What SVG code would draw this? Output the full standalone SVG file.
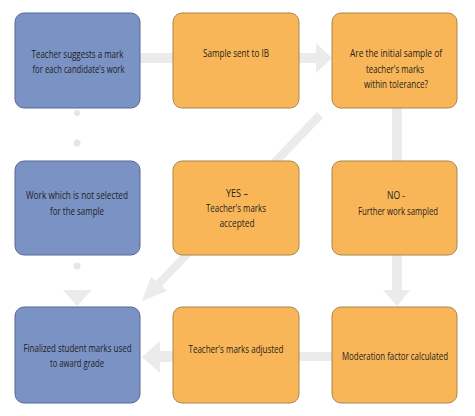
<svg xmlns="http://www.w3.org/2000/svg" width="475" height="416" viewBox="0 0 475 416">
<defs>
<style>
.blue{fill:#7b93c4;stroke:#56698f;stroke-width:1}
.orange{fill:#f9b658;stroke:#a8864f;stroke-width:1}
.t{font-family:"Open Sans","Liberation Sans",sans-serif;font-size:11px;fill:#1e1e1e;text-anchor:middle}
.s{font-size:10px}
.band{fill:#ebebeb}
.dot{fill:#e6e6e6}
</style>
</defs>
<rect width="475" height="416" fill="#ffffff"/>
<g id="connectors">
<rect class="band" x="140" y="53" width="33" height="10"/>
<path class="band" d="M299 53 H316 V43 L332 58 L316 73 V63 H299 Z"/>
<path class="band" d="M392 108 H402 V290 H410 L397 306 L383 290 H392 Z"/>
<path class="band" d="M332 352 V361 H299 V352 Z"/>
<path class="band" d="M173 351 V362 H160 V373 L142 357 L160 341 V351 Z"/>
<path class="band" d="M317 112 L323 118 L162 286 L167 291 L142 301 L151 277 L156 281 Z"/>
<circle class="dot" cx="77" cy="113" r="3"/>
<circle class="dot" cx="77" cy="143" r="3.5"/>
<circle class="dot" cx="77" cy="266" r="3.5"/>
<path class="band" d="M63 290 H92 L77 306 Z"/>
</g>
<g id="n1"><rect class="blue" x="15" y="13" width="125" height="95" rx="9"/>
<text class="t" x="77.5" y="58" textLength="92" lengthAdjust="spacingAndGlyphs">Teacher suggests a mark</text>
<text class="t" x="78.5" y="73" textLength="92" lengthAdjust="spacingAndGlyphs">for each candidate's work</text></g>
<g id="n2"><rect class="orange" x="173" y="13" width="126" height="95" rx="9"/>
<text class="t" x="236" y="57" textLength="66" lengthAdjust="spacingAndGlyphs">Sample sent to IB</text></g>
<g id="n3"><rect class="orange" x="332" y="13" width="125" height="95" rx="9"/>
<text class="t" x="396" y="57" textLength="92" lengthAdjust="spacingAndGlyphs">Are the initial sample of</text>
<text class="t" x="395" y="73" textLength="58" lengthAdjust="spacingAndGlyphs">teacher's marks</text>
<text class="t" x="396" y="88" textLength="64" lengthAdjust="spacingAndGlyphs">within tolerance?</text></g>
<g id="n4"><rect class="blue" x="15" y="161" width="125" height="94" rx="9"/>
<text class="t" x="77" y="199" textLength="102" lengthAdjust="spacingAndGlyphs">Work which is not selected</text>
<text class="t" x="77" y="215" textLength="54" lengthAdjust="spacingAndGlyphs">for the sample</text></g>
<g id="n5"><rect class="orange" x="173" y="161" width="126" height="94" rx="9"/>
<text class="t" x="237" y="197" textLength="22" lengthAdjust="spacingAndGlyphs">YES –</text>
<text class="t" x="236" y="212" textLength="60" lengthAdjust="spacingAndGlyphs">Teacher's marks</text>
<text class="t" x="237" y="227" textLength="35" lengthAdjust="spacingAndGlyphs">accepted</text></g>
<g id="n6"><rect class="orange" x="332" y="161" width="125" height="94" rx="9"/>
<text class="t" x="396" y="199" textLength="18" lengthAdjust="spacingAndGlyphs">NO -</text>
<text class="t" x="398" y="215" textLength="80" lengthAdjust="spacingAndGlyphs">Further work sampled</text></g>
<g id="n7"><rect class="blue" x="15" y="307" width="125" height="96" rx="9"/>
<text class="t" x="77.5" y="352" textLength="108" lengthAdjust="spacingAndGlyphs">Finalized student marks used</text>
<text class="t" x="77" y="367" textLength="54" lengthAdjust="spacingAndGlyphs">to award grade</text></g>
<g id="n8"><rect class="orange" x="173" y="307" width="126" height="96" rx="9"/>
<text class="t" x="236" y="353" textLength="95" lengthAdjust="spacingAndGlyphs">Teacher's marks adjusted</text></g>
<g id="n9"><rect class="orange" x="332" y="307" width="125" height="96" rx="9"/>
<text class="t s" x="395" y="360" textLength="106" lengthAdjust="spacingAndGlyphs">Moderation factor calculated</text></g>
</svg>
